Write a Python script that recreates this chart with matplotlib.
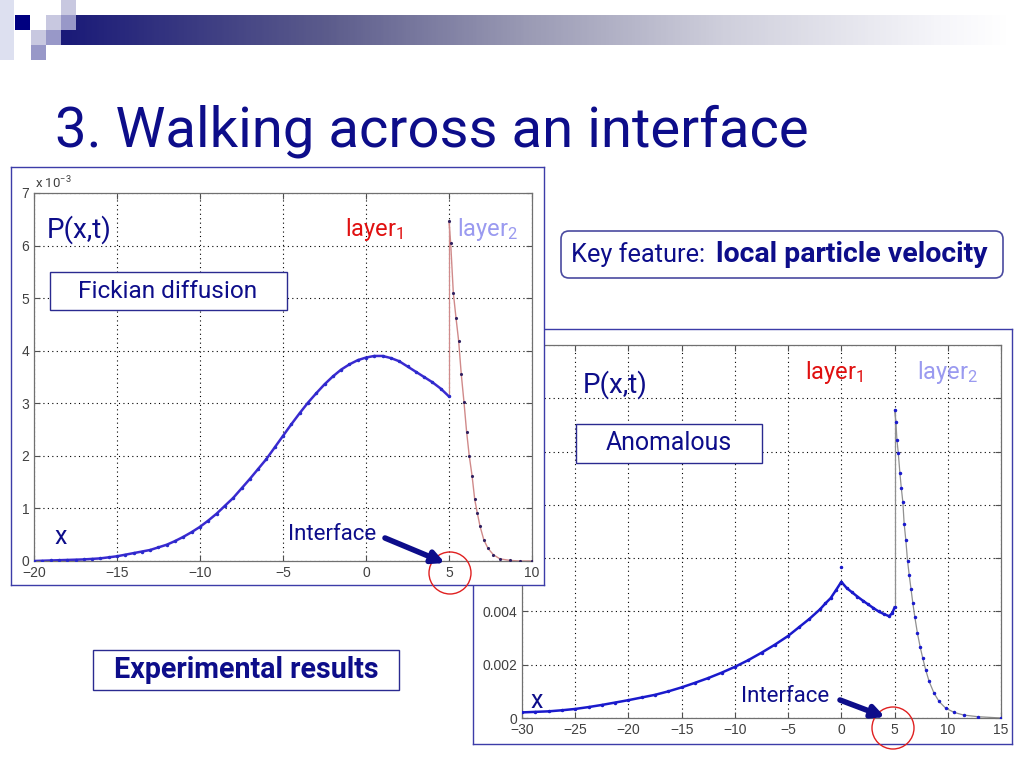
import numpy as np
import matplotlib.pyplot as plt
from matplotlib.patches import Rectangle, Circle, FancyBboxPatch
from matplotlib.colors import LinearSegmentedColormap
from matplotlib.ticker import FuncFormatter

W, H = 1024, 768

# --- data ---
# Fickian diffusion, P in units of 1e-3
x_fick_l = [-20, -19.5, -19, -18.5, -18, -17.5, -17, -16.5, -16, -15.5, -15, -14.5, -14,
            -13.5, -13, -12.5, -12, -11.5, -11, -10.5, -10, -9.5, -9, -8.5, -8, -7.5, -7,
            -6.5, -6, -5.5, -5, -4.5, -4, -3.5, -3, -2.5, -2, -1.5, -1, -0.5, 0, 0.5, 1,
            1.5, 2, 2.5, 3, 3.5, 4, 4.5, 5]
p_fick_l = [0.0, 0.005, 0.01, 0.015, 0.02, 0.025, 0.03, 0.04, 0.05, 0.07, 0.09, 0.12, 0.15,
            0.18, 0.21, 0.26, 0.31, 0.38, 0.46, 0.55, 0.65, 0.77, 0.9, 1.05, 1.2, 1.38, 1.56,
            1.75, 1.94, 2.16, 2.38, 2.6, 2.81, 3.01, 3.19, 3.36, 3.51, 3.64, 3.74, 3.82, 3.87,
            3.9, 3.9, 3.86, 3.8, 3.7, 3.6, 3.5, 3.4, 3.28, 3.13]
x_fick_r = [5.0, 5.1, 5.26, 5.42, 5.58, 5.74, 5.9, 6.06, 6.22, 6.39, 6.55, 6.7, 6.87, 7.1,
            7.35, 7.67, 8.07, 8.7, 9.3, 10]
p_fick_r = [6.46, 6.05, 5.1, 4.63, 4.19, 3.55, 3.03, 2.46, 2.0, 1.62, 1.17, 0.92, 0.66, 0.4,
            0.24, 0.12, 0.04, 0.01, 0.0, 0.0]

# Anomalous, P in units of 1e-3
x_anom_l = [-30, -28.75, -27.5, -26.25, -25, -23.75, -22.5, -21.25, -20, -18.75, -17.5,
            -16.25, -15, -13.75, -12.5, -11.25, -10, -8.75, -7.5, -6.25, -5, -4, -3, -2,
            -1.5, -1, -0.5, 0, 0.5, 1, 1.5, 2, 2.5, 3, 3.5, 4, 4.5, 4.8, 5]
p_anom_l = [0.21, 0.23, 0.25, 0.29, 0.34, 0.41, 0.49, 0.58, 0.67, 0.77, 0.87, 1.0, 1.15,
            1.32, 1.5, 1.7, 1.92, 2.17, 2.45, 2.75, 3.08, 3.4, 3.72, 4.08, 4.3, 4.5, 4.8,
            5.11, 4.88, 4.72, 4.56, 4.41, 4.27, 4.13, 4.0, 3.9, 3.82, 3.95, 4.15]
x_anom_r = [5.0, 5.13, 5.22, 5.35, 5.5, 5.63, 5.78, 5.9, 6.06, 6.22, 6.38, 6.54, 6.72, 6.9,
            7.15, 7.4, 7.65, 7.93, 8.25, 8.7, 9.18, 9.8, 10.6, 11.5, 12.8, 15]
p_anom_r = [11.56, 11.1, 10.45, 9.95, 9.2, 8.65, 8.1, 7.3, 6.67, 5.9, 5.36, 4.86, 4.3, 3.8,
            3.18, 2.68, 2.24, 1.8, 1.37, 0.94, 0.62, 0.37, 0.21, 0.11, 0.05, 0.0]
x_anom_out = [0]
p_anom_out = [5.67]

NAVY = '#0d0d8a'
RED = '#e01010'
LIGHT = '#9a9af0'

plt.rcParams['font.family'] = ['Roboto', 'DejaVu Sans']
plt.rcParams['mathtext.fontset'] = 'custom'
plt.rcParams['mathtext.rm'] = 'Roboto'
plt.rcParams['mathtext.it'] = 'Roboto:italic'

fig = plt.figure(figsize=(W / 100, H / 100), dpi=100)


def rect(l, t, r, b):
    return [l / W, 1 - b / H, (r - l) / W, (b - t) / H]


def pix_axes(z):
    a = fig.add_axes([0, 0, 1, 1], zorder=z)
    a.axis('off')
    return a


def limit(a):
    a.set_xlim(0, W)
    a.set_ylim(H, 0)


# background: logo squares and gradient bar
bg = pix_axes(0)
cmap = LinearSegmentedColormap.from_list(
    'bar', [(0, '#1a1a78'), (0.28, '#5c5c8c'), (0.49, '#9a9ab4'), (0.7, '#cfcfdc'),
            (0.93, '#f6f6fa'), (1, '#ffffff')])
grad = np.linspace(0, 1, 400).reshape(1, -1)
bg.imshow(grad, extent=[61, 1010, 45, 15], aspect='auto', cmap=cmap, zorder=1)
bg.add_patch(Rectangle((0, 0), 14, 60, color='#dde0f0', lw=0, zorder=2))
for (x0, y0, c) in [(15, 15, '#000080'), (46, 15, '#c8c8e0'), (61, 0, '#c8c8e0'),
                    (61, 15, '#9898c8'), (31, 30, '#c8c8e0'), (46, 30, '#9898c8'),
                    (31, 45, '#9898c8'), (30, 15, '#ffffff')]:
    bg.add_patch(Rectangle((x0, y0), 15, 15, color=c, lw=0, zorder=2))
limit(bg)
bg.text(55, 146, '3. Walking across an interface', fontsize=40.5, color=NAVY, va='baseline')

# frames behind the plots
frame2 = fig.add_axes(rect(473, 329, 1012, 744), zorder=1)
ax2 = fig.add_axes(rect(522, 345, 1001, 718), zorder=2)
frame1 = fig.add_axes(rect(11, 167, 544, 585), zorder=3)
ax1 = fig.add_axes(rect(34, 193, 532, 561), zorder=4)

for fr in (frame1, frame2):
    fr.set_xticks([])
    fr.set_yticks([])
    fr.set_facecolor('white')
    for s in fr.spines.values():
        s.set_color('#3c3ca8')
        s.set_linewidth(1.0)

for ax in (ax1, ax2):
    ax.grid(True, color='black', linestyle=(0, (1, 3)), linewidth=0.8)
    ax.tick_params(direction='in', length=4, top=True, right=True, labelsize=10,
                   labelcolor='#404040', colors='#505050')
    for s in ax.spines.values():
        s.set_color('#707070')
        s.set_linewidth(0.9)

# plot 1: Fickian
ax1.plot(x_fick_l, np.array(p_fick_l) * 1e-3, color='#3a2ad0', lw=1.8, zorder=2)
ax1.plot([x_fick_l[-1], x_fick_r[0]], [p_fick_l[-1] * 1e-3, p_fick_r[0] * 1e-3],
         color='#d08a8a', lw=0.9, zorder=2)
ax1.plot(x_fick_r, np.array(p_fick_r) * 1e-3, color='#d08a8a', lw=1.0, zorder=2)
ax1.plot(x_fick_l, np.array(p_fick_l) * 1e-3, ls='none', marker='.', ms=3,
         color='#2a2acc', zorder=3)
ax1.plot(x_fick_r, np.array(p_fick_r) * 1e-3, ls='none', marker='.', ms=2.5,
         color='#302060', zorder=3)
ax1.set_xlim(-20, 10)
ax1.set_ylim(0, 7e-3)
ax1.set_xticks(range(-20, 11, 5))
ax1.set_yticks(np.arange(0, 8) * 1e-3)
ax1.yaxis.set_major_formatter(FuncFormatter(lambda v, p: f'{v * 1e3:g}'))

# plot 2: anomalous
ax2.plot(x_anom_l, np.array(p_anom_l) * 1e-3, color='#1a1acc', lw=1.8, zorder=2)
ax2.plot([x_anom_l[-1], x_anom_r[0]], [p_anom_l[-1] * 1e-3, p_anom_r[0] * 1e-3],
         color='#909090', lw=0.9, zorder=2)
ax2.plot(x_anom_r, np.array(p_anom_r) * 1e-3, color='#909090', lw=0.9, zorder=2)
ax2.plot(x_anom_l, np.array(p_anom_l) * 1e-3, ls='none', marker='.', ms=3,
         color='#1a1acc', zorder=3)
ax2.plot(x_anom_r, np.array(p_anom_r) * 1e-3, ls='none', marker='.', ms=3,
         color='#1a1acc', zorder=3)
ax2.plot(x_anom_out, np.array(p_anom_out) * 1e-3, ls='none', marker='.', ms=3,
         color='#1a1acc', zorder=3)
ax2.set_xlim(-30, 15)
ax2.set_ylim(0, 0.014)
ax2.set_xticks(range(-30, 16, 5))
ax2.set_yticks(np.arange(0, 8) * 0.002)
ax2.yaxis.set_major_formatter(FuncFormatter(lambda v, p: f'{v:g}'))

for ax in (ax1, ax2):
    for lab in ax.get_xticklabels() + ax.get_yticklabels():
        lab.set_family('Liberation Sans')

# overlay: annotations
ov = pix_axes(10)
limit(ov)

ov.text(35, 188, 'x 10$^{-3}$', fontsize=9.5, color='#404040', va='baseline')

# plot 1 labels
ov.text(47, 238, 'P(x,t)', fontsize=20, color=NAVY, va='baseline')
ov.text(345, 236, 'layer$_1$', fontsize=17, color=RED, va='baseline')
ov.text(457, 236, 'layer$_2$', fontsize=17, color=LIGHT, va='baseline')
ov.add_patch(Rectangle((50, 272), 237, 38, fc='white', ec='#2a2a90', lw=1.0))
ov.text(168, 291, 'Fickian diffusion', fontsize=17.6, color=NAVY, ha='center', va='center')
ov.text(54, 544, 'x', fontsize=18, color=NAVY, va='baseline')
ov.text(288, 540, 'Interface', fontsize=16, color=NAVY, va='baseline')
ov.annotate('', xy=(445, 563), xytext=(385, 538),
            arrowprops=dict(arrowstyle='-|>', lw=4, color=NAVY, mutation_scale=18,
                            shrinkA=0, shrinkB=0))
ov.add_patch(Circle((450, 573), 21, fc='none', ec='#e02020', lw=1.0))

# plot 2 labels
ov.text(583, 393, 'P(x,t)', fontsize=20, color=NAVY, va='baseline')
ov.text(805, 379, 'layer$_1$', fontsize=17, color=RED, va='baseline')
ov.text(917, 379, 'layer$_2$', fontsize=17, color=LIGHT, va='baseline')
ov.add_patch(Rectangle((576, 424), 186, 39, fc='white', ec='#2a2a90', lw=1.0))
ov.text(669, 443, 'Anomalous', fontsize=17.9, color=NAVY, ha='center', va='center')
ov.text(530, 708, 'x', fontsize=18, color=NAVY, va='baseline')
ov.text(741, 702, 'Interface', fontsize=16, color=NAVY, va='baseline')
ov.annotate('', xy=(885, 717), xytext=(840, 700),
            arrowprops=dict(arrowstyle='-|>', lw=4, color=NAVY, mutation_scale=18,
                            shrinkA=0, shrinkB=0))
ov.add_patch(Circle((893, 728), 21, fc='none', ec='#e02020', lw=1.0))

# key feature box
ov.add_patch(FancyBboxPatch((561, 231), 442, 47, boxstyle='round,pad=0,rounding_size=8',
                            fc='white', ec='#4a4aa0', lw=1.2))
ov.text(571, 262, 'Key feature:', fontsize=18.3, color=NAVY, va='baseline')
ov.text(716, 262, 'local particle velocity', fontsize=20.5, color=NAVY, va='baseline',
        fontweight='bold')

# experimental results box
ov.add_patch(Rectangle((93, 650), 306, 40, fc='white', ec='#2a2a90', lw=1.0))
ov.text(246, 670, 'Experimental results', fontsize=20.6, color=NAVY, ha='center',
        va='center', fontweight='bold')

fig.savefig('out.png', dpi=100, facecolor='white')
